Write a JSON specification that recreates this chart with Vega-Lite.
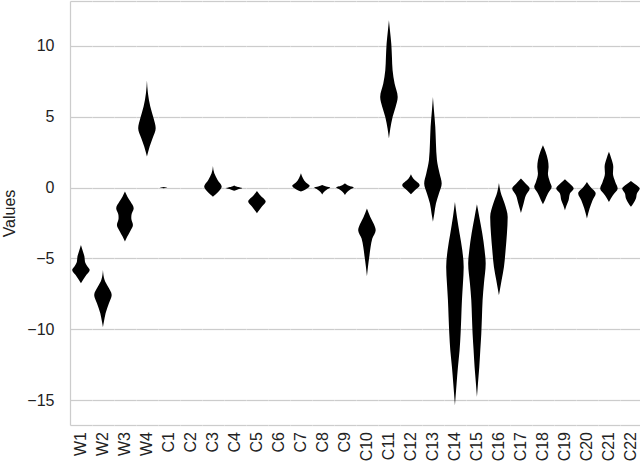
{
  "$schema": "https://vega.github.io/schema/vega-lite/v6.json",
  "padding": {"left": 1, "top": 1, "right": 2, "bottom": 0},
  "background": "white",
  "data": {"values": [
    {"c":"W1","v":-4.05,"w":0},{"c":"W1","v":-4.52,"w":4},{"c":"W1","v":-4.87,"w":7},{"c":"W1","v":-5.22,"w":8},{"c":"W1","v":-5.58,"w":13},{"c":"W1","v":-5.81,"w":17.5},{"c":"W1","v":-6.16,"w":11},{"c":"W1","v":-6.47,"w":5},{"c":"W1","v":-6.75,"w":0},
    {"c":"W2","v":-5.81,"w":0},{"c":"W2","v":-6.52,"w":3.3},{"c":"W2","v":-6.99,"w":10},{"c":"W2","v":-7.58,"w":17.5},{"c":"W2","v":-8.16,"w":12},{"c":"W2","v":-8.87,"w":5.3},{"c":"W2","v":-9.46,"w":2},{"c":"W2","v":-9.86,"w":0},
    {"c":"W3","v":-0.28,"w":0},{"c":"W3","v":-0.64,"w":5},{"c":"W3","v":-0.99,"w":11},{"c":"W3","v":-1.46,"w":17.5},{"c":"W3","v":-1.93,"w":13},{"c":"W3","v":-2.16,"w":12.7},{"c":"W3","v":-2.64,"w":16},{"c":"W3","v":-3.11,"w":10},{"c":"W3","v":-3.46,"w":4.7},{"c":"W3","v":-3.81,"w":0},
    {"c":"W4","v":7.55,"w":0},{"c":"W4","v":6.66,"w":2},{"c":"W4","v":5.72,"w":6.7},{"c":"W4","v":4.89,"w":13.3},{"c":"W4","v":4.19,"w":17.5},{"c":"W4","v":3.48,"w":11.3},{"c":"W4","v":2.89,"w":5.3},{"c":"W4","v":2.19,"w":0},
    {"c":"C1","v":0.04,"w":0},{"c":"C1","v":0,"w":7},{"c":"C1","v":-0.04,"w":0},
    {"c":"C2","v":0.01,"w":0},{"c":"C2","v":0,"w":0},
    {"c":"C3","v":1.53,"w":0},{"c":"C3","v":1.01,"w":2.7},{"c":"C3","v":0.54,"w":9.3},{"c":"C3","v":0.07,"w":17.5},{"c":"C3","v":-0.28,"w":11.3},{"c":"C3","v":-0.52,"w":4},{"c":"C3","v":-0.64,"w":0},
    {"c":"C4","v":0.14,"w":0},{"c":"C4","v":0.05,"w":6},{"c":"C4","v":-0.05,"w":16},{"c":"C4","v":-0.13,"w":7},{"c":"C4","v":-0.22,"w":0},
    {"c":"C5","v":-0.24,"w":0},{"c":"C5","v":-0.52,"w":6},{"c":"C5","v":-0.99,"w":17.5},{"c":"C5","v":-1.34,"w":10},{"c":"C5","v":-1.62,"w":4},{"c":"C5","v":-1.81,"w":0},
    {"c":"C6","v":0.01,"w":0},{"c":"C6","v":0,"w":0},
    {"c":"C7","v":1.01,"w":0},{"c":"C7","v":0.66,"w":4},{"c":"C7","v":0.35,"w":10},{"c":"C7","v":0.12,"w":17.5},{"c":"C7","v":-0.12,"w":10},{"c":"C7","v":-0.28,"w":0},
    {"c":"C8","v":0.19,"w":0},{"c":"C8","v":0.08,"w":8},{"c":"C8","v":0,"w":16},{"c":"C8","v":-0.15,"w":9},{"c":"C8","v":-0.3,"w":4},{"c":"C8","v":-0.49,"w":0},
    {"c":"C9","v":0.31,"w":0},{"c":"C9","v":0.12,"w":8},{"c":"C9","v":0,"w":17.5},{"c":"C9","v":-0.15,"w":10},{"c":"C9","v":-0.3,"w":5},{"c":"C9","v":-0.52,"w":0},
    {"c":"C10","v":-1.48,"w":0},{"c":"C10","v":-2.07,"w":6.7},{"c":"C10","v":-2.59,"w":14},{"c":"C10","v":-3.01,"w":17.5},{"c":"C10","v":-3.6,"w":10.7},{"c":"C10","v":-4.19,"w":7.3},{"c":"C10","v":-4.89,"w":4.7},{"c":"C10","v":-5.6,"w":2},{"c":"C10","v":-6.26,"w":0},
    {"c":"C11","v":11.81,"w":0},{"c":"C11","v":11.1,"w":2},{"c":"C11","v":10.16,"w":4.7},{"c":"C11","v":9.22,"w":6},{"c":"C11","v":8.28,"w":7.3},{"c":"C11","v":7.34,"w":11.3},{"c":"C11","v":6.4,"w":17.5},{"c":"C11","v":5.69,"w":13.3},{"c":"C11","v":4.99,"w":7.3},{"c":"C11","v":4.16,"w":2.7},{"c":"C11","v":3.46,"w":0},
    {"c":"C12","v":0.94,"w":0},{"c":"C12","v":0.64,"w":4.7},{"c":"C12","v":0.16,"w":17.5},{"c":"C12","v":-0.19,"w":8},{"c":"C12","v":-0.47,"w":0},
    {"c":"C13","v":6.4,"w":0},{"c":"C13","v":5.46,"w":2},{"c":"C13","v":4.28,"w":4.7},{"c":"C13","v":3.11,"w":6},{"c":"C13","v":1.93,"w":8},{"c":"C13","v":0.99,"w":13.3},{"c":"C13","v":0.28,"w":17.5},{"c":"C13","v":-0.42,"w":12},{"c":"C13","v":-1.13,"w":6},{"c":"C13","v":-1.84,"w":2.7},{"c":"C13","v":-2.42,"w":0},
    {"c":"C14","v":-1.01,"w":0},{"c":"C14","v":-2.07,"w":4},{"c":"C14","v":-3.25,"w":9.3},{"c":"C14","v":-4.42,"w":14.7},{"c":"C14","v":-5.6,"w":17.5},{"c":"C14","v":-6.78,"w":16},{"c":"C14","v":-7.95,"w":14},{"c":"C14","v":-9.13,"w":12.7},{"c":"C14","v":-10.31,"w":11.3},{"c":"C14","v":-11.48,"w":9.3},{"c":"C14","v":-12.66,"w":6},{"c":"C14","v":-13.84,"w":3.3},{"c":"C14","v":-15.36,"w":0},
    {"c":"C15","v":-1.18,"w":0},{"c":"C15","v":-2.07,"w":4.7},{"c":"C15","v":-3.25,"w":10.7},{"c":"C15","v":-4.42,"w":15.3},{"c":"C15","v":-5.36,"w":17.5},{"c":"C15","v":-6.78,"w":14},{"c":"C15","v":-7.95,"w":11.3},{"c":"C15","v":-9.13,"w":10},{"c":"C15","v":-10.31,"w":8.7},{"c":"C15","v":-11.48,"w":6.7},{"c":"C15","v":-12.66,"w":4.7},{"c":"C15","v":-13.84,"w":2},{"c":"C15","v":-14.78,"w":0},
    {"c":"C16","v":0.33,"w":0},{"c":"C16","v":-0.31,"w":3.3},{"c":"C16","v":-1.13,"w":11.3},{"c":"C16","v":-2.07,"w":17.5},{"c":"C16","v":-3.25,"w":16},{"c":"C16","v":-4.42,"w":13.3},{"c":"C16","v":-5.6,"w":10},{"c":"C16","v":-6.54,"w":5.3},{"c":"C16","v":-7.6,"w":0},
    {"c":"C17","v":0.64,"w":0},{"c":"C17","v":0.28,"w":9.3},{"c":"C17","v":-0.07,"w":17.5},{"c":"C17","v":-0.54,"w":10},{"c":"C17","v":-1.13,"w":5.3},{"c":"C17","v":-1.79,"w":0},
    {"c":"C18","v":2.99,"w":0},{"c":"C18","v":2.52,"w":5.3},{"c":"C18","v":1.93,"w":10},{"c":"C18","v":1.46,"w":11.3},{"c":"C18","v":0.99,"w":10},{"c":"C18","v":0.4,"w":14},{"c":"C18","v":0.05,"w":17.5},{"c":"C18","v":-0.42,"w":10},{"c":"C18","v":-0.89,"w":4},{"c":"C18","v":-1.18,"w":0},
    {"c":"C19","v":0.59,"w":0},{"c":"C19","v":0.28,"w":9.3},{"c":"C19","v":-0.07,"w":17.5},{"c":"C19","v":-0.42,"w":10},{"c":"C19","v":-0.89,"w":7.3},{"c":"C19","v":-1.25,"w":3.3},{"c":"C19","v":-1.6,"w":0},
    {"c":"C20","v":0.4,"w":0},{"c":"C20","v":0.05,"w":6.7},{"c":"C20","v":-0.42,"w":17.5},{"c":"C20","v":-0.89,"w":11.3},{"c":"C20","v":-1.48,"w":5.3},{"c":"C20","v":-2.19,"w":0},
    {"c":"C21","v":2.52,"w":0},{"c":"C21","v":2.05,"w":4.7},{"c":"C21","v":1.46,"w":8.7},{"c":"C21","v":0.99,"w":8},{"c":"C21","v":0.4,"w":12.7},{"c":"C21","v":-0.07,"w":17.5},{"c":"C21","v":-0.54,"w":8},{"c":"C21","v":-1.01,"w":0},
    {"c":"C22","v":0.47,"w":0},{"c":"C22","v":0.24,"w":8.7},{"c":"C22","v":-0.07,"w":17.5},{"c":"C22","v":-0.42,"w":12},{"c":"C22","v":-0.78,"w":10},{"c":"C22","v":-1.13,"w":4.7},{"c":"C22","v":-1.36,"w":0}
  ]},
  "facet": {
    "column": {
      "field": "c", "type": "nominal",
      "sort": ["W1","W2","W3","W4","C1","C2","C3","C4","C5","C6","C7","C8","C9","C10","C11","C12","C13","C14","C15","C16","C17","C18","C19","C20","C21","C22"],
      "header": {"title": null, "labelOrient": "bottom", "labelAngle": -90, "labelAlign": "right", "labelBaseline": "middle", "labelPadding": 7, "labelFontSize": 16, "labelFont": "Liberation Sans", "labelColor": "#222222"}
    }
  },
  "spacing": 0,
  "spec": {
    "width": 21.88,
    "height": 424,
    "layer": [
      {
        "mark": {"type": "area", "orient": "horizontal", "color": "black", "opacity": 1, "interpolate": "monotone"},
        "encoding": {
          "y": {"field": "v", "type": "quantitative", "title": "Values",
            "scale": {"domain": [-16.76, 13.17], "nice": false, "zero": false},
            "axis": {"orient": "left", "values": [-15, -10, -5, 0, 5, 10], "grid": true, "gridColor": "#cccccc", "gridWidth": 1.25, "domainColor": "#cccccc", "domainWidth": 1.25, "ticks": false, "tickSize": 0, "labelPadding": 16, "labelFontSize": 16, "labelFont": "Liberation Sans", "labelColor": "#222222", "titleFontSize": 16, "titleFont": "Liberation Sans", "titleFontWeight": "normal", "titleColor": "#222222", "titlePadding": 9}},
          "x": {"field": "w", "type": "quantitative", "stack": "center", "impute": null, "title": null,
            "scale": {"domain": [-2.19, 19.69], "nice": false, "zero": false},
            "axis": {"orient": "bottom", "labels": false, "ticks": false, "grid": false, "title": null, "domainColor": "#cccccc", "domainWidth": 1.25}}
        }
      },
      {
        "mark": {"type": "area", "orient": "horizontal", "opacity": 0},
        "encoding": {
          "y": {"field": "v", "type": "quantitative",
            "scale": {"domain": [-16.76, 13.17], "nice": false, "zero": false},
            "axis": {"orient": "right", "labels": false, "ticks": false, "grid": false, "title": null, "domainColor": "#cccccc", "domainWidth": 1.25}},
          "x": {"field": "w", "type": "quantitative", "stack": "center", "impute": null,
            "scale": {"domain": [-2.19, 19.69], "nice": false, "zero": false},
            "axis": {"orient": "top", "labels": false, "ticks": false, "grid": false, "title": null, "domainColor": "#cccccc", "domainWidth": 1.25}}
        }
      }
    ],
    "resolve": {"axis": {"x": "independent", "y": "independent"}}
  },
  "config": {"view": {"stroke": null}, "font": "Liberation Sans"}
}
